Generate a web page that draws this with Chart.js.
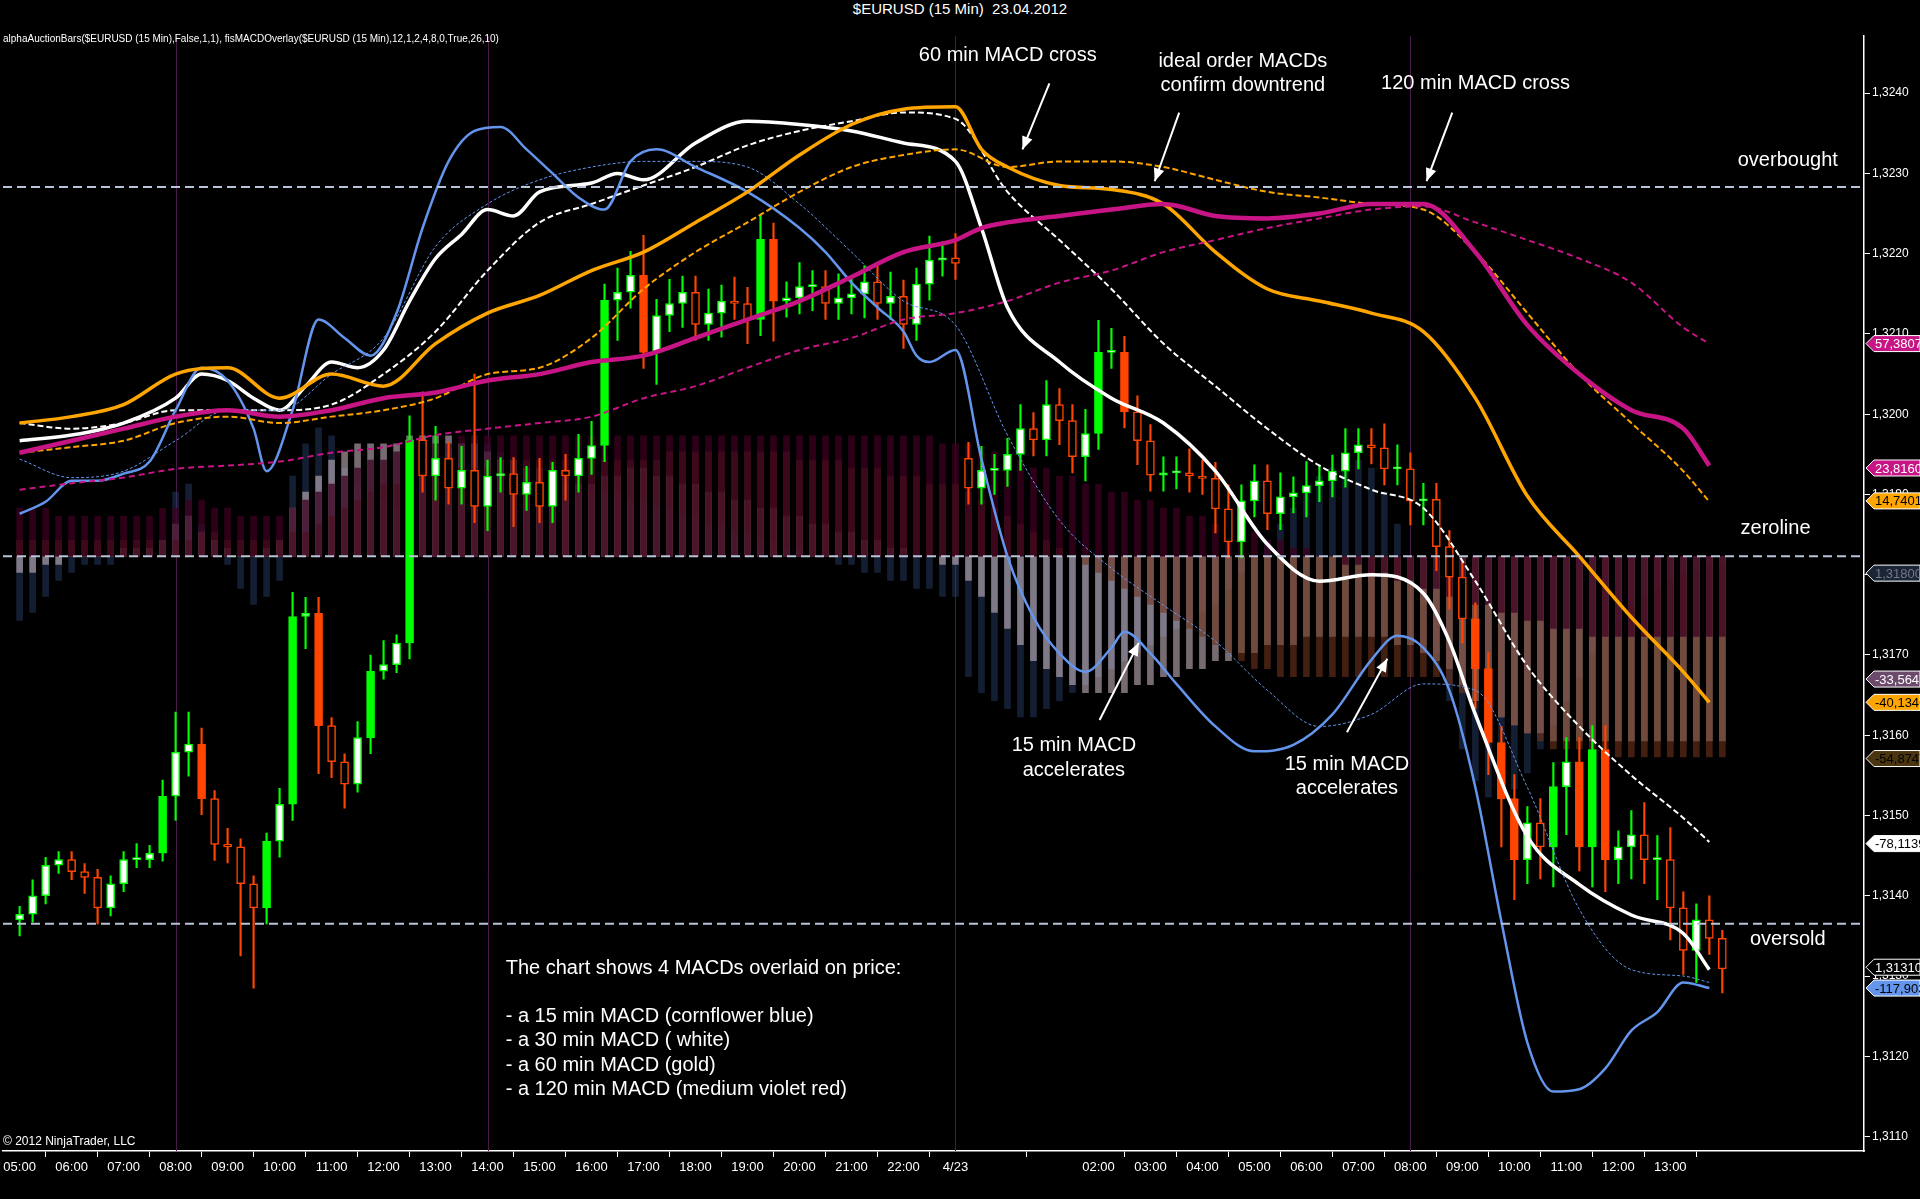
<!DOCTYPE html>
<html>
<head>
<meta charset="utf-8">
<script src="https://cdn.jsdelivr.net/npm/chart.js@4"></script>
<style>
  html, body { margin: 0; padding: 0; background: #000; overflow: hidden; }
  #title { height: 27px; line-height: 27px; text-align: center; color: #fff; font: 15px "Liberation Sans", Arial, sans-serif; background: #000; }
  #wrap { position: relative; width: 1920px; height: 1172px; }
</style>
</head>
<body>
<div id="title">$EURUSD (15 Min)&nbsp;&nbsp;23.04.2012</div>
<div id="wrap"><canvas id="chart"></canvas></div>
<script>
// ---- price candles (15 min bars, index 0 = 05:00) ----
const closes = [
  1.31377,1.31400,1.31438,1.31445,1.31430,1.31423,1.31385,1.31415,1.31445,1.31445,1.31453,1.31524,
  1.31579,1.31589,1.31521,1.31464,1.31461,1.31415,1.31385,1.31468,1.31514,
  1.31748,1.31752,1.31612,1.31567,1.31539,1.31597,1.31680,1.31688,1.31715,1.31968,
  1.31923,1.31945,1.31908,1.31930,1.31885,1.31923,1.31926,1.31900,1.31915,1.31885,1.31930,1.31923,1.31945,1.31961,
  1.32142,1.32152,1.32173,1.32077,1.32123,1.32138,1.32152,1.32112,1.32126,1.32141,1.32138,1.32118,1.32218,1.32141,
  1.32145,1.32159,1.32159,1.32138,1.32145,1.32150,1.32165,1.32138,1.32147,1.32112,1.32162,1.32192,1.32195,1.32188,
  1.31908,1.31930,1.31930,1.31950,1.31982,1.31968,1.32012,1.31992,1.31947,1.31976,1.32077,1.32077,1.32003,1.31967,
  1.31924,1.31927,1.31927,1.31923,1.31920,1.31882,1.31841,1.31892,1.31917,1.31876,1.31897,1.31902,1.31911,1.31917,
  1.31929,1.31952,1.31962,1.31958,1.31932,1.31932,1.31892,1.31894,1.31835,1.31797,1.31745,1.31683,1.31591,1.31521,
  1.31445,1.31491,1.31461,1.31536,1.31567,1.31461,1.31582,1.31445,1.31461,1.31476,1.31445,1.31445,1.31385,1.31332,
  1.31370,1.31347,1.31309
];
const firstOpen = 1.31370;
const sessionBar = 73;          // first bar of 4/23 session
const sessionOpen = 1.31945;
const wickHi = [
  1,2,1,1,1,1,1,1,1,2,1,2, 5,4,2,1,2,1,1,1,2, 3,2,2,1,1,2,2,3,1,3,
  6,4,2,3,12,2,2,2,2,3,1,2,3,3,
  2,3,3,5,2,3,2,2,3,2,3,2,3,2,2,3,2,2,3,2,2,2,3,2,2,3,2,3,
  2,3,2,2,3,2,3,2,2,3,4,3,2,2,2,2,2,3,2,2,3,2,2,2,3,2,3,2,2,3,2,2,3,3,2,2,2,2,2,2,
  2,2,3,2,3,3,3,3,3,3,2,3,4,3,4,2,2,3,1
];
const wickLo = [
  2,1,1,1,1,2,2,1,1,1,1,1, 3,3,2,2,2,9,10,2,2, 2,4,6,2,3,1,2,1,1,2,
  2,3,2,2,2,3,2,4,2,2,2,3,2,2,
  2,5,2,2,4,2,3,2,2,3,2,3,2,5,2,2,3,2,2,2,3,2,2,3,2,2,2,2,
  2,2,3,2,2,2,2,3,2,3,2,2,2,3,2,2,2,2,2,3,2,2,2,2,2,2,3,2,2,2,2,2,2,2,3,3,3,4,3,5,
  4,6,5,3,4,5,6,3,5,4,3,4,3,5,4,3,4,2,3
];

// ---- MACD histograms (pips from zero line) ----
const histMaroon = [
  6,6,6,5,5,5,5,5,5,5,5,6, 6,7,7,6,6,5,5,5,5,
  6,7,8,9,10,11,12,12,13,13,14,14,14,15,15,15,15,15,15,15,15,15,15,15,
  15,15,15,15,15,15,15,15,15,15,15,15,15,15,15,15,15,15,15,15,15,15,15,15,15,15,14,14,
  14,13,13,12,12,11,11,10,10,9,9,8,8,7,7,6,6,5,5,4,4,3,3,2,2,1,1,0,0,-1,-1,-2,-2,-3,-3,-4,-4,-5,-5,-6,
  -6,-7,-7,-8,-8,-9,-9,-9,-10,-10,-10,-10,-10,-10,-10,-10,-10,-10,-10
];
const histBrown = [
  2,2,2,2,2,2,2,2,2,2,2,2, 2,2,3,3,2,2,2,2,2,
  3,3,4,5,6,7,8,9,9,10,10,10,11,11,11,11,12,12,12,12,12,12,12,12,
  12,12,12,12,12,13,13,13,13,13,13,13,13,13,13,12,12,12,12,11,11,11,10,10,10,9,9,9,
  8,7,6,5,4,3,2,1,0,-1,-2,-3,-4,-5,-6,-7,-8,-9,-10,-11,-12,-13,-14,-14,-15,-15,-15,-15,-15,-15,
  -15,-15,-15,-15,-15,-15,-15,-16,-17,-18,-19,-20,-21,-22,-23,-24,-24,-24,-25,-25,-25,-25,-25,-25,-25,-25,-25,-25,-25
];
const histGrey = [
  -2,-2,-1,-1,0,0,0,0,1,1,1,2, 4,5,3,2,1,0,0,1,2,
  6,8,10,12,13,14,14,14,14,15,15,15,15,14,14,13,12,12,11,11,10,10,9,9,
  10,10,11,11,10,10,9,9,8,8,7,7,6,6,5,5,4,4,3,3,2,2,1,1,0,0,-1,-1,
  -3,-5,-7,-9,-11,-13,-14,-15,-16,-17,-17,-17,-17,-16,-16,-15,-15,-14,-14,-13,-13,-12,-12,-11,-11,-11,-10,-10,-10,-10,
  -10,-10,-10,-11,-11,-12,-13,-14,-16,-18,-19,-20,-21,-22,-22,-23,-23,-23,-23,-23,-23,-23,-23,-23,-23,-23,-23,-23,-23
];
const histBlue = [
  -8,-7,-5,-3,-2,-1,-1,-1,0,0,1,2, 8,9,4,2,-1,-4,-6,-5,-3,
  10,14,16,15,11,9,8,7,6,8,10,12,13,14,15,14,13,12,11,10,9,9,8,8,
  8,8,7,7,6,6,5,5,4,4,3,3,2,2,1,1,0,0,-1,-1,-2,-2,-3,-3,-4,-4,-5,-5,
  -15,-17,-18,-19,-20,-20,-19,-18,-17,-16,-15,-14,-13,-12,-11,-10,-9,-8,-7,-6,-4,-2,0,2,4,6,8,10,11,12,
  12,11,8,4,0,-6,-12,-18,-24,-28,-30,-30,-29,-27,-24,-21,-18,-15,-12,-10,-8,-6,-5,-4,-3,-2,-2,-1,-1
];
const zeroLine = 1.31823;

// ---- MACD overlay lines (bar index, price) ----
const blueX = [0,2,4,6,8,10,12,14,16,18,19,21,23,25,27,29,31,33,35,37,39,41,43,45,47,49,52,56,60,62,64,66,68,69,70,72,
  74,76,78,80,82,84,85,87,89,92,95,98,101,104,106,108,110,112,114,116,118,120,122,124,126,128,130];
const blueMacd = [1.31876,1.31891,1.31917,1.31917,1.31926,1.31941,1.32005,1.32058,1.32042,1.31982,1.31929,1.32005,1.32118,1.32095,1.32073,
  1.32126,1.32232,1.32315,1.32353,1.32358,1.32330,1.32300,1.32270,1.32255,1.32315,1.32330,1.32308,1.32277,1.32232,1.32202,1.32164,
  1.32133,1.32103,1.32073,1.32065,1.32080,1.31944,1.31823,1.31747,1.31702,1.31679,1.31709,1.31729,1.31702,1.31664,1.31611,1.31580,
  1.31588,1.31626,1.31694,1.31724,1.31709,1.31656,1.31535,1.31368,1.31217,1.31156,1.31159,1.31185,1.31232,1.31255,1.31292,1.31285];
const stepX = [0,4,8,12,16,20,24,28,32,36,40,44,48,52,56,60,64,68,72,76,80,84,88,92,96,100,104,108,112,116,120,124,128,130];
const blueSignal = [1.31944,1.31921,1.31929,1.31967,1.32005,1.32005,1.32050,1.32095,1.32209,1.32262,1.32292,1.32308,1.32315,1.32315,
  1.32308,1.32262,1.32202,1.32141,1.32111,1.31974,1.31868,1.31808,1.31762,1.31717,1.31656,1.31611,1.31626,1.31664,1.31656,
  1.31535,1.31383,1.31308,1.31300,1.31292];
const whiteX = [0,4,8,12,14,16,18,20,22,24,26,28,30,32,34,36,38,40,44,46,48,52,56,60,64,68,72,74,76,80,84,88,92,96,100,104,108,110,112,116,120,124,128,130];
const whiteMacd = [1.31967,1.31974,1.31989,1.32020,1.32050,1.32042,1.32020,1.32005,1.32035,1.32065,1.32058,1.32080,1.32141,1.32194,
  1.32224,1.32255,1.32247,1.32277,1.32288,1.32300,1.32292,1.32338,1.32365,1.32361,1.32353,1.32338,1.32315,1.32232,1.32133,1.32065,
  1.32020,1.31989,1.31929,1.31838,1.31792,1.31800,1.31777,1.31717,1.31626,1.31474,1.31414,1.31376,1.31353,1.31308];
const whiteSignal = [1.31989,1.31982,1.31989,1.32005,1.32005,1.32005,1.32012,1.32050,1.32103,1.32179,1.32239,1.32262,1.32285,1.32308,
  1.32335,1.32353,1.32365,1.32376,1.32368,1.32277,1.32217,1.32156,1.32088,1.32035,1.31982,1.31936,1.31906,1.31883,1.31792,1.31686,
  1.31611,1.31550,1.31497,1.31467];
const goldX = [0,4,8,12,16,20,24,28,32,36,40,44,48,52,56,60,64,68,72,74,76,80,84,88,92,96,100,104,108,112,116,120,124,128,130];
const goldMacd = [1.31989,1.31997,1.32012,1.32050,1.32058,1.32020,1.32050,1.32035,1.32088,1.32126,1.32148,1.32179,1.32202,1.32239,
  1.32277,1.32323,1.32361,1.32380,1.32383,1.32330,1.32308,1.32285,1.32280,1.32262,1.32202,1.32156,1.32141,1.32126,1.32103,1.32020,
  1.31898,1.31823,1.31747,1.31679,1.31641];
const goldSignal = [1.31952,1.31959,1.31967,1.31989,1.31997,1.31989,1.31997,1.32005,1.32020,1.32050,1.32058,1.32095,1.32156,1.32202,
  1.32239,1.32277,1.32308,1.32323,1.32330,1.32308,1.32315,1.32315,1.32308,1.32292,1.32277,1.32270,1.32262,1.32255,1.32202,1.32126,
  1.32050,1.31989,1.31929,1.31891];
const redMacd = [1.31952,1.31967,1.31982,1.31997,1.32005,1.31997,1.32005,1.32020,1.32027,1.32042,1.32050,1.32065,1.32073,1.32095,
  1.32118,1.32141,1.32171,1.32202,1.32217,1.32232,1.32239,1.32247,1.32255,1.32262,1.32247,1.32244,1.32250,1.32262,1.32262,1.32202,
  1.32111,1.32050,1.32005,1.31982,1.31936];
const redSignal = [1.31906,1.31914,1.31921,1.31932,1.31936,1.31941,1.31952,1.31959,1.31974,1.31982,1.31989,1.31997,1.32020,1.32035,
  1.32058,1.32080,1.32095,1.32118,1.32126,1.32141,1.32164,1.32179,1.32202,1.32217,1.32232,1.32244,1.32255,1.32259,1.32239,1.32217,
  1.32194,1.32164,1.32108,1.32088];

// ---- levels and axis labels ----
const overbought = 1.32283, oversold = 1.31365;
const sessionLines = [12, 36, 72, 107];
const timeLabels = {0:'05:00',4:'06:00',8:'07:00',12:'08:00',16:'09:00',20:'10:00',24:'11:00',28:'12:00',32:'13:00',36:'14:00',
  40:'15:00',44:'16:00',48:'17:00',52:'18:00',56:'19:00',60:'20:00',64:'21:00',68:'22:00',72:'4/23',83:'02:00',87:'03:00',
  91:'04:00',95:'05:00',99:'06:00',103:'07:00',107:'08:00',111:'09:00',115:'10:00',119:'11:00',123:'12:00',127:'13:00'};
const priceTicks = [1.311,1.312,1.313,1.314,1.315,1.316,1.317,1.318,1.319,1.320,1.321,1.322,1.323,1.324];
const tags = [
  { text: '57,38074', v: 1.32088, bg: '#c71585', fg: '#fff' },
  { text: '23,81602', v: 1.31933, bg: '#c71585', fg: '#fff' },
  { text: '14,74013', v: 1.31892, bg: '#ffa500', fg: '#000' },
  { text: '1,318004', v: 1.31802, bg: '#1a2535', fg: '#778' },
  { text: '-33,56473', v: 1.31670, bg: '#6b4a6b', fg: '#fff' },
  { text: '-40,13462', v: 1.31641, bg: '#ffa500', fg: '#000' },
  { text: '-54,87475', v: 1.31571, bg: '#4a3510', fg: '#000' },
  { text: '-78,11394', v: 1.31465, bg: '#fff', fg: '#000' },
  { text: '-117,9036', v: 1.31285, bg: '#6495ed', fg: '#000' },
  { text: '1,31310', v: 1.31311, bg: '#000', fg: '#fff' }
];

const pip = 0.0001;
const opens = closes.map((c, i) => i === 0 ? firstOpen : (i === sessionBar ? sessionOpen : closes[i - 1]));
const bodies = closes.map((c, i) => ({ x: i, y: [opens[i], c] }));
const wicks = closes.map((c, i) => ({ x: i, y: [Math.min(opens[i], c) - wickLo[i] * pip, Math.max(opens[i], c) + wickHi[i] * pip] }));
const up = closes.map((c, i) => c >= opens[i]);
const big = closes.map((c, i) => Math.abs(c - opens[i]) > 6 * pip);
const bodyFill = up.map((u, i) => u ? (big[i] ? '#00ff00' : '#ffffff') : (big[i] ? '#ff4500' : '#000000'));
const bodyLine = up.map(u => u ? '#00ff00' : '#ff4500');

const histSet = (arr, color) => ({
  type: 'bar', data: arr.map((h, i) => ({ x: i, y: [zeroLine, zeroLine + h * pip] })),
  backgroundColor: color, barThickness: 6, grouped: false, order: 5
});
const lineSet = (xs, ys, color, width, dash) => ({
  type: 'line', data: xs.map((x, i) => ({ x: x, y: ys[i] })),
  borderColor: color, borderWidth: width, borderDash: dash || [], pointRadius: 0,
  cubicInterpolationMode: 'monotone', order: 0
});

const S = 1.2245, TOP = 27;
const notes = [
  { t: '60 min MACD cross', x: 823, y: 45 },
  { t: 'ideal order MACDs', x: 1015, y: 50 },
  { t: 'confirm downtrend', x: 1015, y: 70 },
  { t: '120 min MACD cross', x: 1205, y: 68 },
  { t: 'overbought', x: 1460, y: 131 },
  { t: 'zeroline', x: 1450, y: 432 },
  { t: 'oversold', x: 1460, y: 767 },
  { t: '15 min MACD', x: 877, y: 609 },
  { t: 'accelerates', x: 877, y: 629 },
  { t: '15 min MACD', x: 1100, y: 624 },
  { t: 'accelerates', x: 1100, y: 644 }
];
const arrows = [[857, 68, 835, 122], [963, 92, 943, 148], [1186, 92, 1165, 148], [898, 588, 930, 525], [1100, 598, 1133, 538]];
const infoLines = [
  ['The chart shows 4 MACDs overlaid on price:', 791],
  ['- a 15 min MACD (cornflower blue)', 830],
  ['- a 30 min MACD ( white)', 850],
  ['- a 60 min MACD (gold)', 870],
  ['- a 120 min MACD (medium violet red)', 890]
];

const overlay = {
  id: 'overlay',
  beforeDatasetsDraw(chart) {
    const { ctx, chartArea: a, scales: { x } } = chart;
    ctx.save();
    ctx.strokeStyle = '#4a1a4a';
    ctx.lineWidth = 1;
    sessionLines.forEach(i => {
      const px = Math.round(x.getPixelForValue(i)) + 0.5;
      ctx.beginPath(); ctx.moveTo(px, a.top); ctx.lineTo(px, a.bottom); ctx.stroke();
    });
    ctx.restore();
  },
  afterDatasetsDraw(chart) {
    const { ctx, chartArea: a, scales: { y } } = chart;
    ctx.save();
    ctx.strokeStyle = '#b8c4d8';
    ctx.lineWidth = 2;
    ctx.setLineDash([9, 5]);
    [overbought, zeroLine, oversold].forEach(v => {
      const py = y.getPixelForValue(v);
      ctx.beginPath(); ctx.moveTo(a.left, py); ctx.lineTo(a.right, py); ctx.stroke();
    });
    ctx.setLineDash([]);
    ctx.fillStyle = '#fff';
    ctx.textAlign = 'center';
    ctx.textBaseline = 'middle';
    ctx.font = '20px "Liberation Sans", Arial, sans-serif';
    notes.forEach(n => ctx.fillText(n.t, n.x * S, n.y * S - TOP));
    ctx.textAlign = 'left';
    infoLines.forEach(l => ctx.fillText(l[0], 413 * S, l[1] * S - TOP));
    ctx.strokeStyle = '#fff';
    ctx.lineWidth = 2;
    arrows.forEach(([x1, y1, x2, y2]) => {
      x1 *= S; y1 = y1 * S - TOP; x2 *= S; y2 = y2 * S - TOP;
      const ang = Math.atan2(y2 - y1, x2 - x1);
      ctx.beginPath(); ctx.moveTo(x1, y1); ctx.lineTo(x2, y2); ctx.stroke();
      ctx.beginPath();
      ctx.moveTo(x2, y2);
      ctx.lineTo(x2 - 14 * Math.cos(ang - 0.4), y2 - 14 * Math.sin(ang - 0.4));
      ctx.lineTo(x2 - 14 * Math.cos(ang + 0.4), y2 - 14 * Math.sin(ang + 0.4));
      ctx.closePath(); ctx.fill();
    });
    ctx.font = '10px "Liberation Sans", Arial, sans-serif';
    ctx.fillText('alphaAuctionBars($EURUSD (15 Min),False,1,1), fisMACDOverlay($EURUSD (15 Min),12,1,2,4,8,0,True,26,10)', 3, 12);
    ctx.font = '12px "Liberation Sans", Arial, sans-serif';
    ctx.fillText('\u00a9 2012 NinjaTrader, LLC', 3, a.bottom - 9);
    // value tags on the price axis
    ctx.font = '13px "Liberation Sans", Arial, sans-serif';
    tags.forEach(t => {
      const py = y.getPixelForValue(t.v);
      const x0 = a.right + 2;
      ctx.fillStyle = t.bg;
      ctx.strokeStyle = '#fff';
      ctx.lineWidth = 1;
      ctx.beginPath();
      ctx.moveTo(x0, py); ctx.lineTo(x0 + 8, py - 8); ctx.lineTo(1920, py - 8);
      ctx.lineTo(1920, py + 8); ctx.lineTo(x0 + 8, py + 8); ctx.closePath();
      ctx.fill(); ctx.stroke();
      ctx.fillStyle = t.fg;
      ctx.textAlign = 'left';
      ctx.fillText(t.text, x0 + 9, py + 1);
    });
    ctx.restore();
  }
};

new Chart(document.getElementById('chart'), {
  type: 'bar',
  data: {
    datasets: [
      histSet(histMaroon, 'rgba(60,0,32,0.75)'),
      histSet(histBrown, 'rgba(110,52,28,0.6)'),
      histSet(histGrey, 'rgba(215,195,205,0.55)'),
      histSet(histBlue, 'rgba(40,60,100,0.5)'),
      { type: 'bar', data: wicks, backgroundColor: bodyLine, barThickness: 1.5, grouped: false, order: 2 },
      { type: 'bar', data: bodies, backgroundColor: bodyFill, borderColor: bodyLine, borderWidth: 1.5,
        borderSkipped: false, barThickness: 8, grouped: false, order: 1, minBarLength: 2 },
      lineSet(stepX, redSignal, '#c71585', 2, [6, 4]),
      lineSet(goldX, redMacd, '#c71585', 4.5),
      lineSet(stepX, goldSignal, '#ffa500', 2, [6, 3]),
      lineSet(goldX, goldMacd, '#ffa500', 3.5),
      lineSet(stepX, blueSignal, '#6495ed', 1, [3, 2]),
      lineSet(blueX, blueMacd, '#6495ed', 2.5),
      lineSet(stepX, whiteSignal, '#ffffff', 2, [6, 3]),
      lineSet(whiteX, whiteMacd, '#ffffff', 3.5)
    ]
  },
  options: {
    responsive: true,
    maintainAspectRatio: false,
    animation: false,
    layout: { padding: { left: 3, top: 0, right: 0, bottom: 0 } },
    plugins: { legend: { display: false }, tooltip: { enabled: false } },
    scales: {
      x: {
        type: 'linear', min: -1.28, max: 141.9, offset: false,
        afterBuildTicks: s => { s.ticks = Object.keys(timeLabels).map(k => ({ value: +k })); },
        afterFit: s => { s.height = 48; },
        ticks: { color: '#fff', font: { size: 13, family: '"Liberation Sans", Arial' }, maxRotation: 0, autoSkip: false,
          callback: v => timeLabels[v] || '' },
        grid: { drawOnChartArea: false, drawTicks: true, tickLength: 6, color: '#fff' },
        border: { color: '#fff', width: 1.5 }
      },
      y: {
        position: 'right', min: 1.31082, max: 1.32471,
        afterBuildTicks: s => { s.ticks = priceTicks.map(v => ({ value: v })); },
        afterFit: s => { s.width = 56; },
        ticks: { color: '#fff', font: { size: 12, family: '"Liberation Sans", Arial' }, padding: 2,
          callback: v => v.toFixed(4).replace('.', ',') },
        grid: { drawOnChartArea: false, drawTicks: true, tickLength: 6, color: '#fff' },
        border: { color: '#fff', width: 1.5 }
      }
    }
  },
  plugins: [overlay]
});
</script>
</body>
</html>
